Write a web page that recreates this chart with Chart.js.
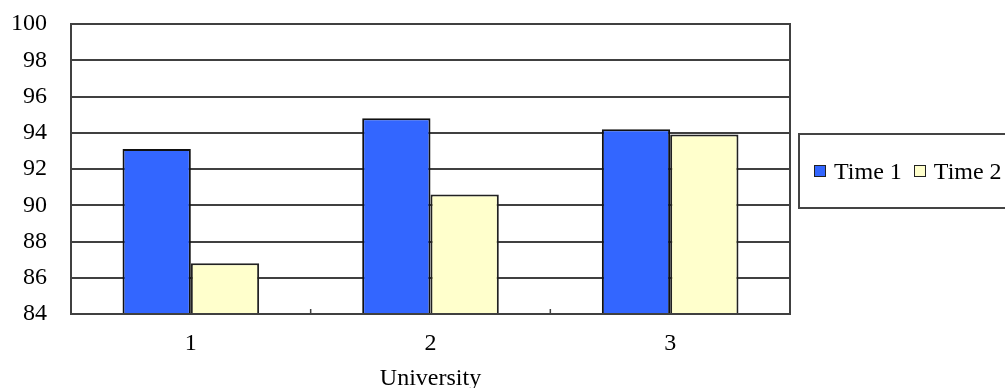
<!DOCTYPE html>
<html>
<head>
<meta charset="utf-8">
<script src="https://cdn.jsdelivr.net/npm/chart.js@4"></script>
<style>
  body { margin: 0; overflow: hidden; background: #fff; }
  #wrap { position: relative; width: 1005px; height: 388px; }
  #legend {
    position: absolute; left: 798px; top: 133px; width: 240px; height: 76px;
    border: 2px solid #444; box-sizing: border-box;
    font-family: "Liberation Serif", "Times New Roman", serif; font-size: 24px; color: #000;
    display: flex; align-items: center; white-space: nowrap; padding-left: 14px;
  }
  #legend span.box {
    display: inline-block; width: 10px; height: 10px; border: 1.5px solid #222;
    margin-right: 8px; vertical-align: middle;
  }
  #legend span.item { margin-right: 12px; display: inline-flex; align-items: center; }
</style>
</head>
<body>
<div id="wrap">
  <canvas id="myChart" width="1005" height="388"></canvas>
  <div id="legend"></div>
</div>
<script>
const universities = ['1', '2', '3'];
const time1 = [93.1, 94.8, 94.2];
const time2 = [86.8, 90.6, 93.9];
const seriesNames = ['Time 1', 'Time 2'];
const seriesColors = ['#3366ff', '#ffffcc'];
const yTicks = [84, 86, 88, 90, 92, 94, 96, 98, 100];

const serif = "'Liberation Serif', 'Times New Roman', serif";

// draws the box around the plot area
const frame = {
  id: 'frame',
  afterDraw(chart) {
    const a = chart.chartArea, c = chart.ctx;
    c.save();
    c.strokeStyle = '#404040';
    c.lineWidth = 2;
    c.strokeRect(a.left, a.top, a.right - a.left, a.bottom - a.top);
    // small tick marks between categories, pointing up
    const x = chart.scales.x;
    c.lineWidth = 1.5;
    for (let i = 1; i < universities.length; i++) {
      const px = (x.getPixelForValue(i - 1) + x.getPixelForValue(i)) / 2;
      c.beginPath();
      c.moveTo(px, a.bottom);
      c.lineTo(px, a.bottom - 5);
      c.stroke();
    }
    c.restore();
  }
};

const data = {
  labels: universities,
  datasets: [
    {
      label: seriesNames[0],
      data: time1,
      backgroundColor: seriesColors[0],
      borderColor: '#111',
      borderWidth: 2,
      borderSkipped: false,
    },
    {
      label: seriesNames[1],
      data: time2,
      backgroundColor: seriesColors[1],
      borderColor: '#222',
      borderWidth: 2,
      borderSkipped: false,
    },
  ]
};

const config = {
  type: 'bar',
  data: data,
  options: {
    responsive: false,
    animation: false,
    layout: { padding: { top: 24, right: 215, left: 0, bottom: 0 } },
    datasets: { bar: { categoryPercentage: 0.57, barPercentage: 1.0 } },
    plugins: {
      legend: { display: false },
      tooltip: { enabled: false },
    },
    scales: {
      x: {
        grid: { display: false, drawTicks: false },
        border: { display: true, color: '#404040', width: 2 },
        ticks: { color: '#000', font: { family: serif, size: 24 }, padding: 15 },
        title: { display: true, text: 'University', color: '#000', padding: 0,
                 font: { family: serif, size: 24, lineHeight: 0.8 } },
        afterFit(scale) { scale.height = 74; scale.paddingLeft = 0; scale.paddingRight = 0; }
      },
      y: {
        min: 84,
        max: 100,
        afterBuildTicks(scale) { scale.ticks = yTicks.map(v => ({ value: v })); },
        grid: { color: '#404040', lineWidth: 2, drawTicks: false },
        border: { display: true, color: '#404040', width: 2 },
        ticks: { color: '#000', font: { family: serif, size: 24 }, padding: 24 },
        afterFit(scale) { scale.width = 71; scale.paddingTop = 0; scale.paddingBottom = 0; }
      }
    }
  },
  plugins: [frame]
};

const myChart = new Chart(document.getElementById('myChart').getContext('2d'), config);

// legend as html, laid out in one row like the original
const legend = document.getElementById('legend');
data.datasets.forEach(ds => {
  const item = document.createElement('span');
  item.className = 'item';
  const box = document.createElement('span');
  box.className = 'box';
  box.style.background = ds.backgroundColor;
  item.appendChild(box);
  item.appendChild(document.createTextNode(ds.label));
  legend.appendChild(item);
});
</script>
</body>
</html>
